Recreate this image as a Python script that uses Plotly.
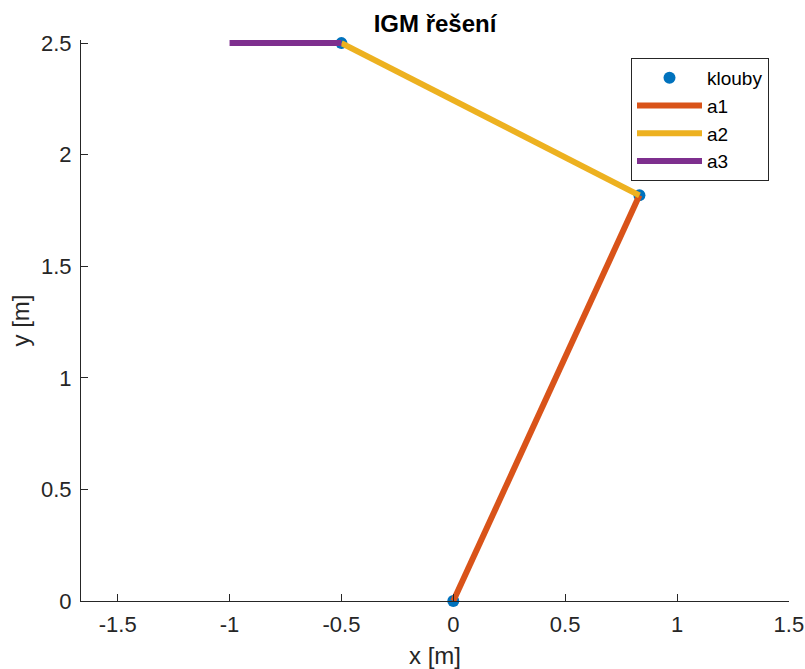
import plotly.graph_objects as go

# Data
joint_x = [0.0, 0.832, -0.5]
joint_y = [0.0, 1.818, 2.5]
a1_x = [0.0, 0.832]
a1_y = [0.0, 1.818]
a2_x = [0.832, -0.5]
a2_y = [1.818, 2.5]
a3_x = [-0.5, -1.0]
a3_y = [2.5, 2.5]
x_ticks = [-1.5, -1, -0.5, 0, 0.5, 1, 1.5]
y_ticks = [0, 0.5, 1, 1.5, 2, 2.5]

axis_col = "#262626"
font = "Liberation Sans, Arial, sans-serif"

W, H = 805, 669
L, R, T, B = 81, 789, 40, 601
Y_TOP = 2.514  # tiny headroom so the top segment is not clipped

fig = go.Figure()
fig.add_trace(go.Scatter(x=joint_x, y=joint_y, mode="markers", name="klouby",
                         marker=dict(color="#0072BD", size=12), cliponaxis=False))
fig.add_trace(go.Scatter(x=a1_x, y=a1_y, mode="lines", name="a1",
                         line=dict(color="#D95319", width=6), cliponaxis=False))
fig.add_trace(go.Scatter(x=a2_x, y=a2_y, mode="lines", name="a2",
                         line=dict(color="#EDB120", width=6), cliponaxis=False))
fig.add_trace(go.Scatter(x=a3_x, y=a3_y, mode="lines", name="a3",
                         line=dict(color="#7E2F8E", width=6), cliponaxis=False))

fig.update_layout(
    width=W, height=H,
    margin=dict(l=L, r=W - R, t=T, b=H - B, autoexpand=False),
    paper_bgcolor="white", plot_bgcolor="white",
    font=dict(family=font, size=22, color=axis_col),
    title=dict(text="<b>IGM řešení</b>", x=(L + R) / 2 / W, xanchor="center",
               y=1 - 24 / H, yanchor="middle",
               font=dict(family=font, size=24, color="black")),
    showlegend=True,
    legend=dict(x=(631 - L) / (R - L), y=(B - 58) / (B - T), xanchor="left", yanchor="top",
                bgcolor="white", bordercolor=axis_col, borderwidth=1,
                font=dict(family=font, size=19, color="black"),
                itemwidth=65),
    xaxis=dict(range=[-1.664, 1.5005], tickvals=x_ticks, ticktext=[f"{v:g}" for v in x_ticks],
               showgrid=False, zeroline=False, showline=True, linecolor=axis_col,
               linewidth=1, ticks="inside", ticklen=7, tickcolor=axis_col,
               automargin=False, ticklabelstandoff=4, ticklabeloverflow="allow",
               title=dict(text="x [m]", font=dict(size=24), standoff=12)),
    yaxis=dict(range=[0, Y_TOP], tickvals=y_ticks, ticktext=[f"{v:g}" for v in y_ticks],
               showgrid=False, zeroline=False, showline=True, linecolor=axis_col,
               linewidth=1, ticks="inside", ticklen=7, tickcolor=axis_col,
               automargin=False, ticklabelstandoff=4, ticklabeloverflow="allow",
               title=dict(text="y [m]", font=dict(size=24), standoff=4)),
)

fig.write_html("out.html")
